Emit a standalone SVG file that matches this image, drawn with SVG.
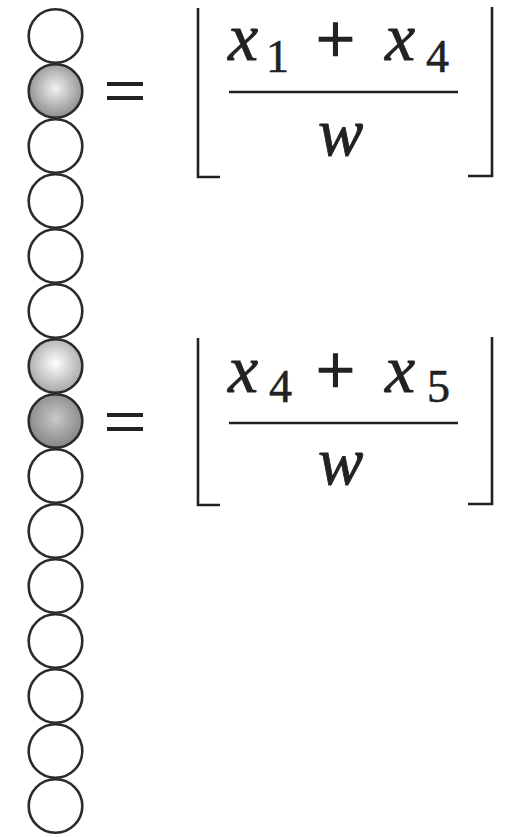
<svg xmlns="http://www.w3.org/2000/svg" width="511" height="837" viewBox="0 0 511 837">
<defs>
<radialGradient id="gMid" cx="0.5" cy="0.45" r="0.55">
<stop offset="0" stop-color="#f2f2f2"/><stop offset="1" stop-color="#8c8c8c"/>
</radialGradient>
<radialGradient id="gLight" cx="0.5" cy="0.45" r="0.55">
<stop offset="0" stop-color="#ffffff"/><stop offset="1" stop-color="#a6a6a6"/>
</radialGradient>
<radialGradient id="gDark" cx="0.5" cy="0.45" r="0.55">
<stop offset="0" stop-color="#c9c9c9"/><stop offset="1" stop-color="#858585"/>
</radialGradient>
</defs>
<style>
.b{fill:#fff;stroke:#2b2b2b;stroke-width:2.6}
.ln{stroke:#222;stroke-width:2.6;fill:none}
.eq{stroke:#222;stroke-width:4}
.v{font-family:'Liberation Serif','Times New Roman',serif;font-style:italic;font-size:68px;fill:#222;stroke:#222;stroke-width:0.8}
.s{font-family:'Liberation Serif','Times New Roman',serif;font-size:46px;fill:#222;stroke:#222;stroke-width:0.6}
.p{font-family:'Liberation Serif','Times New Roman',serif;font-size:69px;fill:#222;stroke:#222;stroke-width:1.6}
</style>
<rect width="511" height="837" fill="#fff"/>
<g id="beads">
<circle class="b" cx="55.5" cy="36" r="26.8"/>
<circle class="b" cx="55.5" cy="146" r="26.8"/>
<circle class="b" cx="55.5" cy="201" r="26.8"/>
<circle class="b" cx="55.5" cy="256" r="26.8"/>
<circle class="b" cx="55.5" cy="311" r="26.8"/>
<circle class="b" cx="55.5" cy="476" r="26.8"/>
<circle class="b" cx="55.5" cy="531" r="26.8"/>
<circle class="b" cx="55.5" cy="586" r="26.8"/>
<circle class="b" cx="55.5" cy="641" r="26.8"/>
<circle class="b" cx="55.5" cy="696" r="26.8"/>
<circle class="b" cx="55.5" cy="751" r="26.8"/>
<circle class="b" cx="55.5" cy="806" r="26.8"/>
<circle class="b" cx="55.5" cy="91" r="26.8" style="fill:url(#gMid)"/>
<circle class="b" cx="55.5" cy="366" r="26.8" style="fill:url(#gLight)"/>
<circle class="b" cx="55.5" cy="421" r="26.8" style="fill:url(#gDark)"/>
</g>
<g id="eq1">
<line class="eq" x1="107" y1="84" x2="143" y2="84"/>
<line class="eq" x1="107" y1="98" x2="143" y2="98"/>
<polyline class="ln" points="198,8 198,177 220,177"/>
<polyline class="ln" points="492,7 492,176 468,176"/>
<line class="ln" x1="229" y1="92" x2="458" y2="92"/>
<text class="v" x="228" y="60">x</text>
<text class="s" x="266" y="72">1</text>
<text class="p" x="316" y="63">+</text>
<text class="v" x="385" y="60">x</text>
<text class="s" x="426" y="72">4</text>
<text class="v" x="318" y="155">w</text>
</g>
<g id="eq2">
<line class="eq" x1="107" y1="415" x2="143" y2="415"/>
<line class="eq" x1="107" y1="429" x2="143" y2="429"/>
<polyline class="ln" points="198,338 198,505 220,505"/>
<polyline class="ln" points="492,337 492,504 468,504"/>
<line class="ln" x1="229" y1="423" x2="458" y2="423"/>
<text class="v" x="228" y="392">x</text>
<text class="s" x="269" y="402">4</text>
<text class="p" x="316" y="394">+</text>
<text class="v" x="385" y="392">x</text>
<text class="s" x="427" y="402">5</text>
<text class="v" x="318" y="484">w</text>
</g>
</svg>
